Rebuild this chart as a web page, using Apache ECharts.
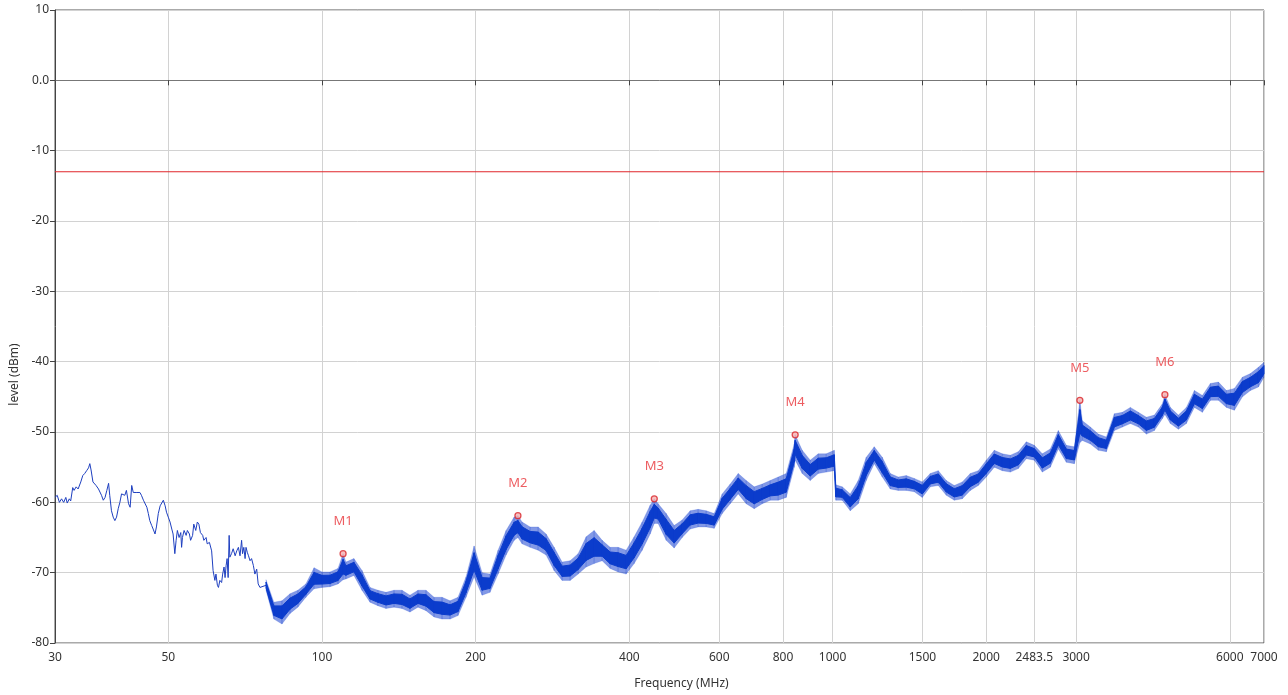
<!DOCTYPE html>
<html>
<head>
<meta charset="utf-8">
<script src="https://cdn.jsdelivr.net/npm/echarts@6/dist/echarts.min.js"></script>
<style>
html,body{margin:0;padding:0;background:#fff;}
#chart{width:1288px;height:695px;}
</style>
</head>
<body>
<div id="chart"></div>
<script>
// ---- data ----
const xTickValues = [30, 50, 100, 200, 400, 600, 800, 1000, 1500, 2000, 2483.5, 3000, 6000, 7000];
const xTickLabels = ['30', '50', '100', '200', '400', '600', '800', '1000', '1500', '2000', '2483.5', '3000', '6000', '7000'];
const limitLevel = -13;

// low-frequency trace (MHz, dBm)
const thinFreq = [30.0,30.3,30.6,30.9,31.2,31.5,31.7,32.0,32.2,32.5,
  32.7,33.0,33.3,33.7,34.0,34.3,34.6,34.9,35.1,35.3,
  35.6,35.8,36.1,36.5,36.8,37.0,37.3,37.6,37.9,38.2,
  38.4,38.7,39.0,39.3,39.6,39.9,40.2,40.5,40.8,41.1,
  41.4,41.8,42.1,42.4,42.7,43.4,44.0,44.3,44.7,45.0,
  45.4,45.7,46.0,46.4,46.7,47.1,47.4,47.8,48.2,48.5,
  48.9,49.3,49.6,50.0,50.4,50.8,51.1,51.5,51.8,52.1,
  52.5,52.9,53.1,53.3,53.7,54.2,54.5,55.0,55.3,55.8,
  56.1,56.6,57.0,57.4,57.8,58.4,58.7,59.3,59.6,60.2,
  60.8,61.2,61.7,62.0,62.4,62.7,63.1,63.6,63.9,64.3,
  64.6,64.9,65.2,65.5,65.8,66.0,66.5,67.0,67.6,68.1,
  68.6,69.1,69.6,69.9,70.3,70.7,71.0,71.4,71.8,72.3,
  72.8,73.4,73.9,74.5,75.0,75.6,77.7];
const thinLevel = [-59.3,-59.0,-60.0,-59.5,-60.0,-59.3,-60.1,-59.5,-59.8,-57.9,
  -58.3,-57.8,-58.1,-57.1,-56.2,-55.9,-55.5,-55.1,-54.5,-55.4,
  -57.1,-56.9,-57.6,-58.1,-58.3,-59.0,-59.7,-59.3,-58.3,-57.3,
  -59.0,-61.2,-62.1,-62.6,-62.1,-60.9,-60.0,-58.8,-58.6,-59.0,
  -58.3,-60.2,-60.7,-57.6,-58.6,-58.6,-58.6,-59.0,-59.7,-59.5,
  -60.7,-61.6,-62.6,-63.3,-63.8,-64.5,-63.5,-61.6,-60.5,-60.7,
  -59.7,-60.5,-61.4,-62.1,-62.8,-63.8,-64.5,-67.3,-65.4,-64.0,
  -65.0,-64.3,-66.4,-65.0,-64.0,-64.7,-64.0,-64.5,-65.4,-64.7,
  -63.1,-64.0,-62.8,-63.1,-64.3,-64.7,-65.4,-65.0,-65.9,-65.7,
  -66.9,-69.7,-71.1,-70.2,-71.8,-72.1,-71.1,-71.4,-70.2,-69.2,
  -70.7,-69.0,-68.0,-70.7,-64.7,-67.8,-67.3,-66.6,-67.6,-66.9,
  -66.4,-67.6,-65.4,-67.3,-66.4,-68.0,-66.4,-67.1,-67.6,-68.3,
  -68.0,-69.0,-70.2,-69.5,-71.6,-72.1,-71.8];

// noisy band above ~78 MHz: upper and lower envelope of the trace
const bandFreq = [77.7,80.5,83.5,86.6,89.7,93.0,96.5,100.0,103.7,107.5,
  110.0,111.4,115.5,119.8,124.2,128.7,133.5,138.4,143.5,148.7,
  154.2,159.9,165.8,171.9,178.2,184.7,191.5,198.6,205.9,213.4,
  221.3,229.4,237.9,242.0,246.6,255.7,265.1,274.8,284.9,295.4,
  306.3,317.5,329.2,341.3,353.8,366.8,380.3,394.3,408.8,423.8,
  439.4,447.6,455.5,472.3,489.6,507.6,526.3,545.6,565.7,586.5,
  608.0,630.4,653.6,677.6,702.5,728.3,755.1,782.8,811.6,841.4,
  845.0,872.3,904.4,937.6,972.1,1007.8,1015,1044.8,1083.2,1123.0,
  1164.3,1207.1,1251.5,1297.5,1345.2,1394.6,1445.9,1499.0,1554.1,1611.2,
  1670.4,1731.8,1795.5,1861.5,1929.9,2000.8,2074.4,2150.6,2229.7,2311.6,
  2396.6,2484.6,2575.9,2670.6,2768.8,2870.5,2976.0,3051,3085.4,3198.8,
  3316.4,3438.3,3564.7,3695.7,3831.5,3972.3,4118.3,4269.7,4426.6,4477,
  4589.3,4758.0,4932.9,5114.2,5302.2,5497.1,5699.1,5908.6,6125.8,6350.9,
  6584.3,6826.3,7000];
const bandTop = [-71.0,-74.2,-74.0,-73.0,-72.5,-71.6,-69.3,-69.9,-69.9,-69.4,
  -67.3,-68.5,-68.0,-69.7,-72.1,-72.5,-72.8,-72.5,-72.5,-73.2,
  -72.5,-72.5,-73.5,-73.5,-74.0,-73.5,-70.6,-66.2,-70.0,-70.2,
  -66.8,-64.0,-62.1,-61.9,-62.8,-63.5,-63.5,-64.5,-66.4,-68.5,
  -68.3,-67.3,-64.9,-64.0,-65.4,-66.4,-66.4,-66.8,-64.9,-62.8,
  -60.4,-59.5,-60.2,-61.6,-63.3,-62.5,-61.2,-61.0,-61.2,-61.6,
  -58.8,-57.4,-55.9,-56.9,-57.8,-57.4,-56.9,-56.4,-55.9,-51.7,
  -50.4,-52.6,-54.0,-53.1,-53.1,-52.6,-57.5,-57.8,-58.8,-56.9,
  -53.6,-52.1,-53.6,-55.9,-56.4,-56.2,-56.6,-57.1,-55.9,-55.5,
  -56.9,-57.6,-57.1,-55.9,-55.5,-54.0,-52.6,-53.1,-53.3,-52.8,
  -51.4,-51.9,-53.1,-52.4,-49.8,-51.9,-52.1,-45.5,-48.4,-49.3,
  -50.3,-50.7,-47.4,-47.2,-46.5,-47.2,-47.9,-47.6,-46.0,-44.7,
  -46.5,-47.6,-46.5,-44.1,-44.8,-43.1,-42.9,-44.1,-43.8,-42.2,
  -41.7,-40.8,-40.1];
const bandBottom = [-72.5,-76.6,-77.3,-75.8,-74.9,-73.5,-72.3,-72.1,-72.0,-71.6,
  -71.0,-70.9,-70.4,-72.5,-74.2,-74.7,-75.1,-74.9,-75.1,-75.6,
  -74.9,-75.4,-76.3,-76.6,-76.6,-76.1,-73.5,-70.6,-73.2,-72.8,
  -70.2,-67.5,-65.4,-65.0,-65.9,-66.4,-66.8,-67.5,-69.7,-71.1,
  -71.1,-70.2,-69.2,-68.7,-68.3,-69.4,-69.9,-70.2,-68.7,-66.8,
  -64.5,-63.0,-63.0,-65.4,-66.5,-65.0,-63.8,-63.5,-63.5,-63.7,
  -61.6,-60.2,-58.8,-60.2,-60.9,-60.2,-59.7,-59.7,-59.3,-55.0,
  -54.0,-55.9,-56.9,-55.9,-55.7,-55.5,-59.7,-59.7,-61.2,-60.2,
  -56.9,-54.5,-56.4,-58.1,-58.3,-58.3,-58.5,-59.3,-57.8,-57.6,
  -59.0,-59.7,-59.5,-58.3,-57.6,-56.4,-55.0,-55.5,-55.7,-55.2,
  -53.8,-54.0,-55.7,-55.0,-52.4,-54.3,-54.5,-51.5,-51.2,-51.7,
  -52.6,-52.8,-49.8,-49.3,-48.8,-49.3,-50.3,-49.8,-48.1,-47.5,
  -48.8,-49.6,-48.8,-46.5,-47.2,-45.5,-45.5,-46.5,-46.9,-45.0,
  -44.1,-43.6,-42.2];

// markers
const markerNames = ['M1', 'M2', 'M3', 'M4', 'M5', 'M6'];
const markerFreq = [110, 242, 447.6, 845, 3051, 4477];
const markerLevel = [-67.3, -61.9, -59.5, -50.4, -45.5, -44.7];

// ---- chart ----
const TRACE = '#0b3ccc';
const n = Math.min(bandFreq.length, bandTop.length, bandBottom.length);
const bandData = [];
for (let i = 0; i < n; i++) bandData.push([bandFreq[i], bandTop[i], bandBottom[i]]);
const thinData = thinFreq.map((f, i) => [f, thinLevel[i]]);
const markerData = markerNames.map((nm, i) => ({ name: nm, value: [markerFreq[i], markerLevel[i]] }));

function lerp(p, q, t) { return [p[0] + (q[0] - p[0]) * t, p[1] + (q[1] - p[1]) * t]; }
function renderBand(params, api) {
  const i = params.dataIndex;
  if (i >= n - 1) return null;
  const a = api.coord([bandFreq[i], bandTop[i]]);
  const b = api.coord([bandFreq[i + 1], bandTop[i + 1]]);
  const c = api.coord([bandFreq[i + 1], bandBottom[i + 1]]);
  const d = api.coord([bandFreq[i], bandBottom[i]]);
  const k = 0.22;
  return {
    type: 'group',
    children: [
      { type: 'polygon', shape: { points: [a, b, c, d] },
        style: { fill: 'rgba(30,70,210,0.55)', stroke: 'rgba(30,70,210,0.35)', lineWidth: 0.6 } },
      { type: 'polygon', shape: { points: [lerp(a, d, k), lerp(b, c, k), lerp(c, b, k), lerp(d, a, k)] },
        style: { fill: TRACE, stroke: TRACE, lineWidth: 1 } }
    ]
  };
}

const FONT = 'Noto Sans';
const chart = echarts.init(document.getElementById('chart'), null, { renderer: 'canvas' });
chart.setOption({
  animation: false,
  backgroundColor: '#ffffff',
  grid: { left: 55, right: 24, top: 10, bottom: 52, show: true, borderColor: '#555', borderWidth: 1, backgroundColor: 'transparent' },
  xAxis: {
    type: 'log', logBase: 10, min: 30, max: 7000,
    name: 'Frequency (MHz)', nameLocation: 'middle', nameGap: 35,
    nameTextStyle: { color: '#333', fontFamily: FONT, fontSize: 12, padding: [0, 0, 0, 44] },
    axisLine: { show: true, lineStyle: { color: '#777', width: 1 } },
    axisTick: { show: true, inside: false, length: 5, customValues: xTickValues, lineStyle: { color: '#444' } },
    axisLabel: {
      color: '#333', fontFamily: FONT, fontSize: 12, margin: 9,
      customValues: xTickValues,
      formatter: function (v) {
        for (let i = 0; i < xTickValues.length; i++) {
          if (Math.abs(v - xTickValues[i]) / xTickValues[i] < 1e-6) return xTickLabels[i];
        }
        return '';
      }
    },
    splitLine: { show: true, lineStyle: { color: '#d2d2d2', width: 1 } },
    minorTick: { show: false }, minorSplitLine: { show: false }
  },
  yAxis: {
    type: 'value', min: -80, max: 10, interval: 10,
    name: 'level (dBm)', nameLocation: 'middle', nameGap: 31, nameRotate: 90,
    nameTextStyle: { color: '#333', fontFamily: FONT, fontSize: 12, padding: [0, 96, 0, 0] },
    axisLine: { show: true, lineStyle: { color: '#444', width: 1 } },
    axisTick: { show: true, inside: false, length: 5, lineStyle: { color: '#444' } },
    axisLabel: {
      color: '#333', fontFamily: FONT, fontSize: 12, margin: 6,
      formatter: v => (v === 0 ? '0.0' : String(v))
    },
    splitLine: { show: true, lineStyle: { color: '#d2d2d2', width: 1 } }
  },
  series: [
    {
      name: 'limit', type: 'line', symbol: 'none', silent: true,
      data: [[xTickValues[0], limitLevel], [xTickValues[xTickValues.length - 1], limitLevel]],
      lineStyle: { color: '#e0262b', width: 1.2 }, z: 3
    },
    {
      name: 'trace', type: 'line', symbol: 'none', silent: true,
      data: thinData,
      lineStyle: { color: '#1e3fc0', width: 1 }, z: 4
    },
    {
      name: 'band', type: 'custom', silent: true,
      renderItem: renderBand,
      encode: { x: 0, y: [1, 2] },
      data: bandData, z: 4
    },
    {
      name: 'markers', type: 'scatter', silent: true,
      data: markerData,
      symbol: 'circle', symbolSize: 6,
      itemStyle: { color: '#f6b0b0', borderColor: '#d8262b', borderWidth: 1.3 },
      label: {
        show: true, position: 'top', distance: 22, formatter: '{b}',
        color: '#e8343a', fontFamily: FONT, fontSize: 13
      },
      z: 6
    }
  ]
});
</script>
</body>
</html>
